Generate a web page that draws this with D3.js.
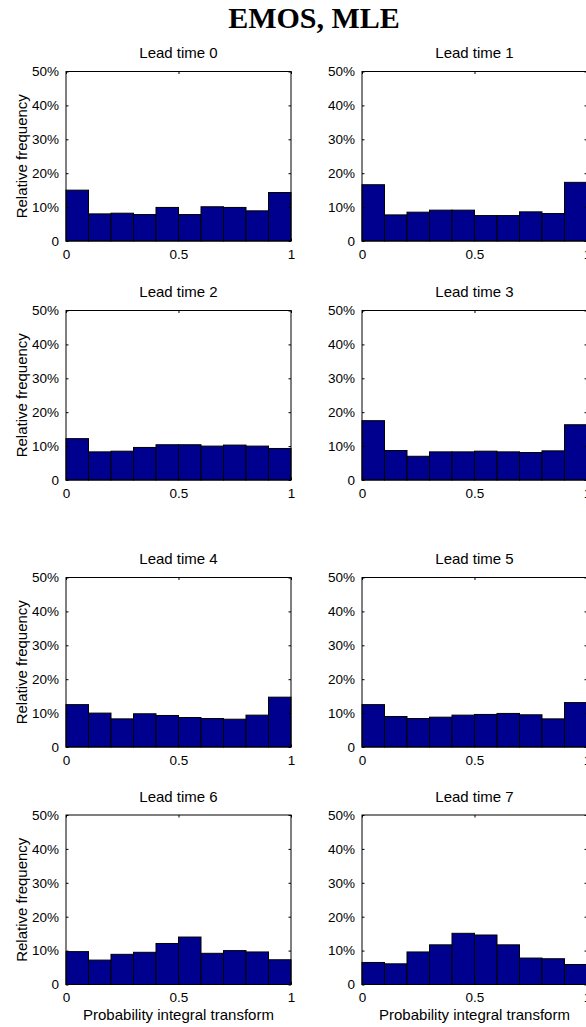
<!DOCTYPE html>
<html>
<head>
<meta charset="utf-8">
<script src="https://cdn.jsdelivr.net/npm/d3@7/dist/d3.min.js"></script>
<style>
  html, body { margin: 0; padding: 0; background: #fff; overflow: hidden; }
  svg { display: block; }
  text { font-family: "Liberation Sans", Arial, Helvetica, sans-serif; fill: #000; }
</style>
</head>
<body>
<svg id="chart" width="586" height="1027"></svg>
<script>
// PIT histogram relative frequencies (%) per lead time, 10 equal bins on [0, 1]
const leadTimes = [0, 1, 2, 3, 4, 5, 6, 7];
const binEdges = [0, 0.1, 0.2, 0.3, 0.4, 0.5, 0.6, 0.7, 0.8, 0.9, 1];
const freqLead0 = [15.0, 8.0, 8.2, 7.8, 9.9, 7.8, 10.1, 9.9, 8.9, 14.3];
const freqLead1 = [16.6, 7.7, 8.5, 9.1, 9.1, 7.5, 7.5, 8.6, 8.1, 17.3];
const freqLead2 = [12.2, 8.3, 8.5, 9.6, 10.4, 10.4, 10.0, 10.3, 10.0, 9.3];
const freqLead3 = [17.5, 8.7, 7.0, 8.3, 8.3, 8.5, 8.3, 8.1, 8.6, 16.3];
const freqLead4 = [12.5, 10.0, 8.3, 9.8, 9.3, 8.7, 8.4, 8.2, 9.4, 14.7];
const freqLead5 = [12.5, 9.0, 8.4, 8.8, 9.4, 9.6, 9.9, 9.5, 8.3, 13.1];
const freqLead6 = [9.7, 7.2, 8.9, 9.5, 12.1, 14.0, 9.2, 10.0, 9.6, 7.3];
const freqLead7 = [6.5, 6.1, 9.6, 11.7, 15.1, 14.6, 11.7, 7.8, 7.6, 5.9];
const frequencies = [freqLead0, freqLead1, freqLead2, freqLead3, freqLead4, freqLead5, freqLead6, freqLead7];

const xTicks = [0, 0.5, 1];
const xTickLabels = ["0", "0.5", "1"];
const yTicks = [0, 10, 20, 30, 40, 50];
const yTickLabels = ["0", "10%", "20%", "30%", "40%", "50%"];

const figTitle = "EMOS, MLE";
const yLabel = "Relative frequency";
const xLabel = "Probability integral transform";

// Layout of the 4 x 2 grid of axes
const colLeft = [66, 362];
const rowTop = [71.5, 310.5, 577.5, 815];
const plotW = 225;
const plotH = 169.5;
const barColor = "#00008f";
const tickLen = 2.5;

const svg = d3.select("#chart");

svg.append("text")
  .attr("x", 314).attr("y", 28)
  .attr("text-anchor", "middle")
  .style("font-family", "'Liberation Serif', 'Times New Roman', serif")
  .style("font-weight", "bold")
  .style("font-size", "30px")
  .text(figTitle);

leadTimes.forEach((lt, i) => {
  const col = i % 2, row = Math.floor(i / 2);
  const x0 = colLeft[col], y0 = rowTop[row];
  const g = svg.append("g").attr("transform", `translate(${x0},${y0})`);

  const x = d3.scaleLinear().domain([0, 1]).range([0, plotW]);
  const y = d3.scaleLinear().domain([0, 50]).range([plotH, 0]);

  const bins = frequencies[i].map((v, k) => ({ lo: binEdges[k], hi: binEdges[k + 1], v }));

  g.selectAll("rect.bar").data(bins).join("rect")
    .attr("class", "bar")
    .attr("x", d => x(d.lo))
    .attr("y", d => y(d.v))
    .attr("width", d => x(d.hi) - x(d.lo))
    .attr("height", d => y(0) - y(d.v))
    .attr("fill", barColor)
    .attr("stroke", "#000")
    .attr("stroke-width", 1);

  // Box outline
  g.append("rect")
    .attr("x", 0).attr("y", 0).attr("width", plotW).attr("height", plotH)
    .attr("fill", "none").attr("stroke", "#000").attr("stroke-width", 1);

  // Bottom axis with inward ticks
  const xAxis = d3.axisBottom(x).tickValues(xTicks)
    .tickFormat((d, k) => xTickLabels[k])
    .tickSizeInner(-tickLen).tickSizeOuter(0).tickPadding(5);
  const gx = g.append("g").attr("transform", `translate(0,${plotH})`).call(xAxis);
  gx.select(".domain").remove();
  gx.selectAll("text").style("font-size", "13.5px").attr("dy", "0.95em");

  // Top mirrored ticks
  const gxt = g.append("g").call(d3.axisTop(x).tickValues(xTicks).tickFormat("").tickSizeInner(-tickLen).tickSizeOuter(0));
  gxt.select(".domain").remove();

  // Left axis
  const yAxis = d3.axisLeft(y).tickValues(yTicks)
    .tickFormat((d, k) => yTickLabels[k])
    .tickSizeInner(-tickLen).tickSizeOuter(0).tickPadding(7);
  const gy = g.append("g").call(yAxis);
  gy.select(".domain").remove();
  gy.selectAll("text").style("font-size", "13.5px");

  // Right mirrored ticks
  const gyr = g.append("g").attr("transform", `translate(${plotW},0)`)
    .call(d3.axisRight(y).tickValues(yTicks).tickFormat("").tickSizeInner(-tickLen).tickSizeOuter(0));
  gyr.select(".domain").remove();

  g.selectAll(".tick line").attr("stroke", "#000");

  g.append("text")
    .attr("x", plotW / 2).attr("y", -13.5)
    .attr("text-anchor", "middle")
    .style("font-size", "15px")
    .text("Lead time " + lt);

  if (col === 0) {
    g.append("text")
      .attr("transform", `translate(${-39},${plotH / 2}) rotate(-90)`)
      .attr("text-anchor", "middle")
      .style("font-size", "15px")
      .text(yLabel);
  }
  if (row === 3) {
    g.append("text")
      .attr("x", plotW / 2).attr("y", plotH + 35)
      .attr("text-anchor", "middle")
      .style("font-size", "15px")
      .text(xLabel);
  }
});
</script>
</body>
</html>
